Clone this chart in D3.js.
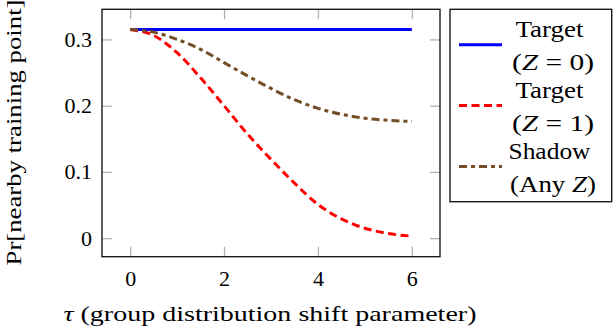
<!DOCTYPE html>
<html>
<head>
<meta charset="utf-8">
<script src="https://cdn.jsdelivr.net/npm/d3@7"></script>
</head>
<body style="margin:0">
<div class="canvas"></div>
<script>
// data
const tau = [0, 0.5, 1, 1.5, 2, 2.5, 3, 3.5, 4, 4.5, 5, 5.5, 6];
const targetZ0 = [0.315, 0.315, 0.315, 0.315, 0.315, 0.315, 0.315, 0.315, 0.315, 0.315, 0.315, 0.315, 0.315];
const targetZ1 = [0.315, 0.306, 0.280, 0.242, 0.200, 0.157, 0.119, 0.083, 0.051, 0.029, 0.015, 0.007, 0.003];
const shadow   = [0.315, 0.311, 0.300, 0.285, 0.265, 0.245, 0.226, 0.209, 0.196, 0.187, 0.181, 0.178, 0.176];

const xTicks = [0, 2, 4, 6];
const yTicks = [0, 0.1, 0.2, 0.3];
const seriesNames = [['Target', '(Z = 0)'], ['Target', '(Z = 1)'], ['Shadow', '(Any Z)']];

const font = 'Liberation Serif';
const fontSize = 22;

//select svg container first
const svg = d3.select('.canvas')
    .append('svg')
    .attr('width', 614)
    .attr('height', 328);

// margins and dimensions
const margin = {top: 9.3, left: 102};
const graphWidth = 338;
const graphHeight = 247.4;

const graph = svg.append('g')
    .attr('transform', `translate(${margin.left},${margin.top})`);

const x = d3.scaleLinear()
    .domain([-0.6, 6.6])
    .range([0, graphWidth]);

const y = d3.scaleLinear()
    .domain([-0.028, 0.3455])
    .range([graphHeight, 0]);

// axes, ticks inside on all four sides
const xAxis = d3.axisBottom(x).tickValues(xTicks).tickFormat(d3.format('d'))
    .tickSizeInner(-10).tickSizeOuter(0).tickPadding(14);
const yAxis = d3.axisLeft(y).tickValues(yTicks).tickFormat(d => d === 0 ? '0' : d3.format('.1f')(d))
    .tickSizeInner(-10).tickSizeOuter(0).tickPadding(10);
const xTop = d3.axisTop(x).tickValues(xTicks).tickFormat('').tickSizeInner(-10).tickSizeOuter(0);
const yRight = d3.axisRight(y).tickValues(yTicks).tickFormat('').tickSizeInner(-10).tickSizeOuter(0);

const xAxisGroup = graph.append('g').attr('transform', `translate(0,${graphHeight})`).call(xAxis);
const yAxisGroup = graph.append('g').call(yAxis);
const xTopGroup = graph.append('g').call(xTop);
const yRightGroup = graph.append('g').attr('transform', `translate(${graphWidth},0)`).call(yRight);

[xAxisGroup, yAxisGroup, xTopGroup, yRightGroup].forEach(g => {
  g.select('.domain').remove();
  g.attr('font-family', font).attr('font-size', fontSize);
  g.selectAll('.tick line').attr('stroke', '#b3b3b3').attr('stroke-width', 1.3);
  g.selectAll('.tick text').attr('fill', '#000');
});

// series
const series = [
  {values: targetZ0, color: '#0000ff', dash: null},
  {values: targetZ1, color: '#ff0000', dash: '8,4.5'},
  {values: shadow, color: '#734d26', dash: '8,4,4,4'}
];

const line = d3.line()
    .x(d => x(d[0]))
    .y(d => y(d[1]))
    .curve(d3.curveMonotoneX);

graph.selectAll('path.series')
    .data(series)
    .enter()
    .append('path')
    .attr('class', 'series')
    .attr('d', s => line(tau.map((t, i) => [t, s.values[i]])))
    .attr('fill', 'none')
    .attr('stroke', s => s.color)
    .attr('stroke-width', 3)
    .attr('stroke-dasharray', s => s.dash);

// frame
graph.append('rect')
    .attr('width', graphWidth)
    .attr('height', graphHeight)
    .attr('fill', 'none')
    .attr('stroke', '#1a1a1a')
    .attr('stroke-width', 1.4);

// axis titles
const xTitle = svg.append('text')
    .attr('x', margin.left + graphWidth / 2 - 1)
    .attr('y', 321)
    .attr('text-anchor', 'middle')
    .attr('font-family', font)
    .attr('font-size', fontSize)
    .attr('textLength', 413)
    .attr('lengthAdjust', 'spacingAndGlyphs');
xTitle.append('tspan').attr('font-style', 'italic').text('τ');
xTitle.append('tspan').text(' (group distribution shift parameter)');

svg.append('text')
    .attr('transform', `translate(21,${margin.top + graphHeight / 2 - 0.5}) rotate(-90)`)
    .attr('text-anchor', 'middle')
    .attr('font-family', font)
    .attr('font-size', fontSize)
    .attr('textLength', 266)
    .attr('lengthAdjust', 'spacingAndGlyphs')
    .text('Pr[nearby training point]');

// legend
const legend = svg.append('g');
legend.append('rect')
    .attr('x', 450)
    .attr('y', 9.3)
    .attr('width', 161.7)
    .attr('height', 192.4)
    .attr('fill', '#fff')
    .attr('stroke', '#1a1a1a')
    .attr('stroke-width', 1.4);

const entries = legend.selectAll('g.entry')
    .data(series)
    .enter()
    .append('g')
    .attr('class', 'entry')
    .attr('transform', (d, i) => `translate(0,${i * 60.8})`);

entries.append('line')
    .attr('x1', 459).attr('x2', 502)
    .attr('y1', 44.8).attr('y2', 44.8)
    .attr('stroke', s => s.color)
    .attr('stroke-width', 3)
    .attr('stroke-dasharray', s => s.dash);

// widths of the wider original lettering
const firstWidths = [68, 68, 82];
const secondWidths = [82, 82, 86];

entries.append('text')
    .attr('x', 549.5)
    .attr('y', 37.3)
    .attr('text-anchor', 'middle')
    .attr('font-family', font)
    .attr('font-size', 23)
    .attr('textLength', (d, i) => firstWidths[i])
    .attr('lengthAdjust', 'spacingAndGlyphs')
    .text((d, i) => seriesNames[i][0]);

// second line with an italic Z
entries.append('text')
    .attr('x', 553)
    .attr('y', 70)
    .attr('text-anchor', 'middle')
    .attr('font-family', font)
    .attr('font-size', 23)
    .attr('textLength', (d, i) => secondWidths[i])
    .attr('lengthAdjust', 'spacingAndGlyphs')
    .each(function(d, i) {
      const parts = seriesNames[i][1].split('Z');
      const t = d3.select(this);
      t.append('tspan').text(parts[0]);
      t.append('tspan').attr('font-style', 'italic').text('Z');
      t.append('tspan').text(parts[1]);
    });
</script>
</body>
</html>
